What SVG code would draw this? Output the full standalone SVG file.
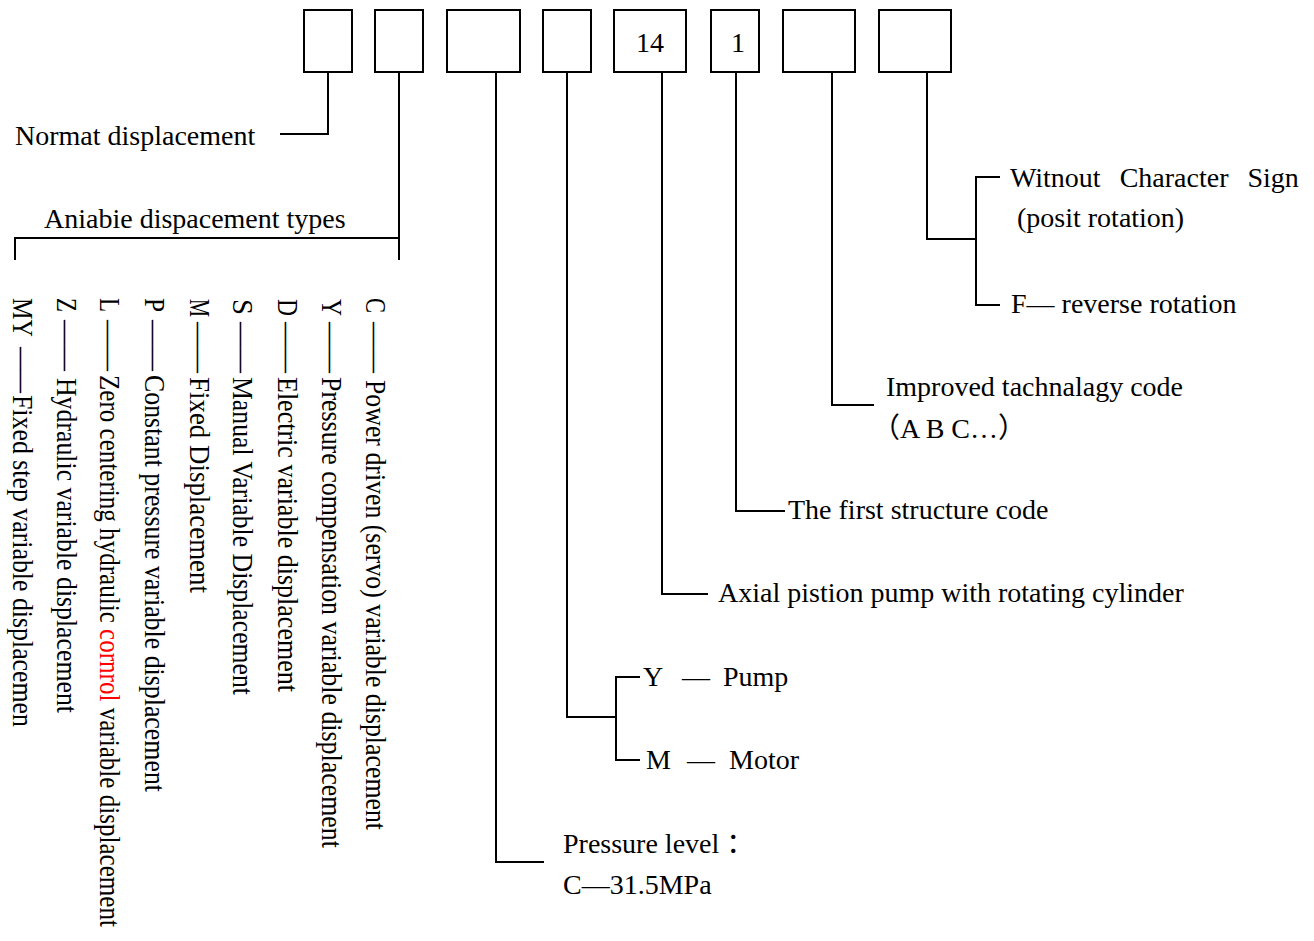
<svg xmlns="http://www.w3.org/2000/svg" width="1314" height="941" viewBox="0 0 1314 941">
<style>
.bx{fill:#fff;stroke:#000;stroke-width:2}
.ln{fill:none;stroke:#000;stroke-width:2}
.t{font-family:"Liberation Serif","Times New Roman",serif;font-size:28px;fill:#000}
.v{font-family:"Liberation Serif","Times New Roman",serif;font-size:30px;fill:#000}
.cj{font-family:"Liberation Serif","Noto Sans CJK SC",serif}
</style>
<rect width="1314" height="941" fill="#fff"/>
<g id="connectors">
<polyline class="ln" points="328,72 328,134 280,134"/>
<polyline class="ln" points="399,72 399,260"/>
<polyline class="ln" points="15,260 15,238 399,238"/>
<polyline class="ln" points="496,72 496,862 544,862"/>
<polyline class="ln" points="567,72 567,717 616,717"/>
<polyline class="ln" points="640,677 616,677 616,760 640,760"/>
<polyline class="ln" points="662,72 662,594 708,594"/>
<polyline class="ln" points="736,72 736,511 785,511"/>
<polyline class="ln" points="832,72 832,405 874,405"/>
<polyline class="ln" points="927,72 927,239 976,239"/>
<polyline class="ln" points="1000,177 976,177 976,305 1000,305"/>
</g>
<g id="box1"><rect class="bx" x="304" y="10" width="48" height="62"/></g>
<g id="box2"><rect class="bx" x="375" y="10" width="48" height="62"/></g>
<g id="box3"><rect class="bx" x="447" y="10" width="73" height="62"/></g>
<g id="box4"><rect class="bx" x="543" y="10" width="48" height="62"/></g>
<g id="box5"><rect class="bx" x="614" y="10" width="72" height="62"/><text class="t" x="650" y="52" text-anchor="middle">14</text></g>
<g id="box6"><rect class="bx" x="711" y="10" width="48" height="62"/><text class="t" x="738" y="52" text-anchor="middle">1</text></g>
<g id="box7"><rect class="bx" x="783" y="10" width="72" height="62"/></g>
<g id="box8"><rect class="bx" x="879" y="10" width="72" height="62"/></g>
<g id="normal"><text class="t" x="15" y="145">Normat displacement</text></g>
<g id="variable-types">
<text class="t" x="44" y="228">Aniabie dispacement types</text>
<g class="v">
<g transform="translate(366,0) rotate(90)"><text x="298" y="0" textLength="15" lengthAdjust="spacingAndGlyphs">C</text><text x="322" y="0" textLength="51" lengthAdjust="spacingAndGlyphs">——</text><text x="380" y="0" textLength="450" lengthAdjust="spacingAndGlyphs">Power driven (servo) variable displacement</text></g>
<g transform="translate(322,0) rotate(90)"><text x="299" y="0" textLength="17" lengthAdjust="spacingAndGlyphs">Y</text><text x="322" y="0" textLength="51" lengthAdjust="spacingAndGlyphs">——</text><text x="377" y="0" textLength="471" lengthAdjust="spacingAndGlyphs">Pressure compensation variable displacement</text></g>
<g transform="translate(278,0) rotate(90)"><text x="299" y="0" textLength="17" lengthAdjust="spacingAndGlyphs">D</text><text x="322" y="0" textLength="51" lengthAdjust="spacingAndGlyphs">——</text><text x="377" y="0" textLength="315" lengthAdjust="spacingAndGlyphs">Electric variable displacement</text></g>
<g transform="translate(233,0) rotate(90)"><text x="299" y="0" textLength="16" lengthAdjust="spacingAndGlyphs">S</text><text x="322" y="0" textLength="51" lengthAdjust="spacingAndGlyphs">——</text><text x="377" y="0" textLength="318" lengthAdjust="spacingAndGlyphs">Manual Variable Displacement</text></g>
<g transform="translate(190,0) rotate(90)"><text x="299" y="0" textLength="18" lengthAdjust="spacingAndGlyphs">M</text><text x="322" y="0" textLength="51" lengthAdjust="spacingAndGlyphs">——</text><text x="377" y="0" textLength="216" lengthAdjust="spacingAndGlyphs">Fixed Displacement</text></g>
<g transform="translate(145,0) rotate(90)"><text x="298" y="0" textLength="14" lengthAdjust="spacingAndGlyphs">P</text><text x="320" y="0" textLength="51" lengthAdjust="spacingAndGlyphs">——</text><text x="375" y="0" textLength="417" lengthAdjust="spacingAndGlyphs">Constant pressure variable displacement</text></g>
<g transform="translate(100,0) rotate(90)"><text x="298" y="0" textLength="14" lengthAdjust="spacingAndGlyphs">L</text><text x="320" y="0" textLength="51" lengthAdjust="spacingAndGlyphs">——</text><text x="375" y="0" textLength="552" lengthAdjust="spacingAndGlyphs">Zero centering hydraulic <tspan fill="#ff0000">cornrol</tspan> variable displacement</text></g>
<g transform="translate(57,0) rotate(90)"><text x="298" y="0" textLength="14" lengthAdjust="spacingAndGlyphs">Z</text><text x="320" y="0" textLength="51" lengthAdjust="spacingAndGlyphs">——</text><text x="378" y="0" textLength="335" lengthAdjust="spacingAndGlyphs">Hydraulic variable displacement</text></g>
<g transform="translate(13,0) rotate(90)"><text x="298" y="0" textLength="39" lengthAdjust="spacingAndGlyphs">MY</text><text x="347" y="0" textLength="46" lengthAdjust="spacingAndGlyphs">——</text><text x="395" y="0" textLength="332" lengthAdjust="spacingAndGlyphs">Fixed step variable displacemen</text></g>
</g>
</g>
<g id="pressure"><text class="t" x="563" y="853">Pressure level <tspan class="cj">：</tspan></text><text class="t" x="563" y="894">C—31.5MPa</text></g>
<g id="pump-motor"><text class="t" y="686"><tspan x="643">Y</tspan><tspan x="682">—</tspan><tspan x="723">Pump</tspan></text><text class="t" y="769"><tspan x="646">M</tspan><tspan x="687">—</tspan><tspan x="729">Motor</tspan></text></g>
<g id="axial"><text class="t" x="718" y="602">Axial pistion pump with rotating cylinder</text></g>
<g id="structure"><text class="t" x="788" y="519">The first structure code</text></g>
<g id="improved"><text class="t" x="886" y="396">Improved tachnalagy code</text><text class="t cj" x="872" y="438">（A B C…）</text></g>
<g id="rotation"><text class="t" x="1010" y="187" word-spacing="12">Witnout Character Sign</text><text class="t" x="1017" y="227">(posit rotation)</text><text class="t" x="1011" y="313">F— reverse rotation</text></g>
</svg>
